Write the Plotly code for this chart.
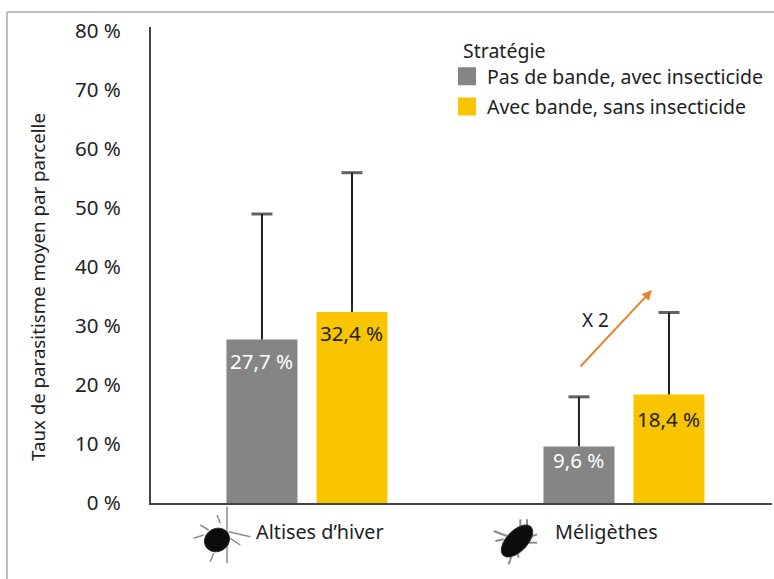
import math
import plotly.graph_objects as go

W, H = 774, 579
categories = ["Altises d’hiver", "Méligèthes"]
series_names = ["Pas de bande, avec insecticide", "Avec bande, sans insecticide"]
gray_values = [27.7, 9.6]
yellow_values = [32.4, 18.4]
gray_upper = [49.0, 18.0]
yellow_upper = [56.0, 32.3]
gray_labels = ["27,7 %", "9,6 %"]
yellow_labels = ["32,4 %", "18,4 %"]
y_ticks = [0, 10, 20, 30, 40, 50, 60, 70, 80]
y_ticklabels = ["0 %", "10 %", "20 %", "30 %", "40 %", "50 %", "60 %", "70 %", "80 %"]
y_title = "Taux de parasitisme moyen par parcelle"
legend_title = "Stratégie"
GRAY, YELLOW, ORANGE, INK = "#858585", "#F9C400", "#E8842C", "#222222"
FONT = "Noto Sans"

L, R, T, B = 151, 772, 27, 503
px = lambda x: (x - L) / (R - L)
py = lambda y: (B - y) / (B - T)

group_pos = list(range(len(categories)))
OFFSET, BAR_W = 0.142, 0.224

fig = go.Figure()
for name, vals, upper, color, sign in [
    (series_names[0], gray_values, gray_upper, GRAY, -1),
    (series_names[1], yellow_values, yellow_upper, YELLOW, 1),
]:
    xs = [p + sign * OFFSET for p in group_pos]
    fig.add_bar(x=xs, y=vals, width=BAR_W, name=name, marker_color=color,
                marker_line_width=0, showlegend=False)
    # upper whiskers only: stem from the bar top to the capped upper value
    wx, wy, ws = [], [], []
    for x, v, u in zip(xs, vals, upper):
        wx += [x, x, None]
        wy += [v, u, None]
        ws += [0, 15, 0]
    fig.add_scatter(x=wx, y=wy, mode="lines+markers", showlegend=False, hoverinfo="skip",
                    line=dict(color=INK, width=2),
                    marker=dict(symbol="line-ew", size=ws, line=dict(color=INK, width=3)))
    fig.add_scatter(x=[None], y=[None], mode="markers", name=name, legendgroup=name,
                    marker=dict(symbol="square", size=20, color=color,
                                line=dict(color=color, width=2)))

annos = []
def bar_label(x, val, txt, ys, col):
    annos.append(dict(x=x, y=val, text=txt, showarrow=False, yshift=ys, xanchor="center",
                      yanchor="middle", font=dict(color=col, size=20.5, family=FONT)))
bar_label(group_pos[0] - OFFSET, gray_values[0], gray_labels[0], -21, "white")
bar_label(group_pos[0] + OFFSET, yellow_values[0], yellow_labels[0], -21, INK)
bar_label(group_pos[1] - OFFSET, gray_values[1], gray_labels[1], -14, "white")
bar_label(group_pos[1] + OFFSET, yellow_values[1], yellow_labels[1], -25, INK)

for pos, cat, xs in zip(group_pos, categories, (13, -17)):
    annos.append(dict(x=pos, y=0, text=cat, showarrow=False, xshift=xs, xanchor="center",
                      yshift=-28, font=dict(color=INK, size=19.8, family=FONT)))
annos.append(dict(xref="paper", yref="paper", x=px(595), y=py(320), text="X 2", showarrow=False,
                  xanchor="center", font=dict(color=INK, size=19, family=FONT)))
annos.append(dict(xref="paper", yref="paper", x=px(652), y=py(290), ax=579 - 652, ay=368 - 290,
                  axref="pixel", ayref="pixel", text="", showarrow=True, arrowhead=2,
                  arrowsize=1, arrowwidth=2, arrowcolor=ORANGE))
annos.append(dict(xref="paper", yref="paper", x=px(461), y=py(50), text=legend_title, showarrow=False,
                  xanchor="left", yanchor="middle", font=dict(color=INK, size=19.5, family=FONT)))
annos.append(dict(xref="paper", yref="paper", x=px(37), y=py(287), text=y_title, showarrow=False,
                  textangle=-90, xanchor="center", yanchor="middle",
                  font=dict(color=INK, size=18.7, family=FONT)))

shapes = [
    dict(type="line", xref="paper", yref="paper", x0=px(7), x1=px(774), y0=py(12), y1=py(12),
         line=dict(color="#A8A8A8", width=1.5)),
    dict(type="line", xref="paper", yref="paper", x0=px(7), x1=px(7), y0=py(12), y1=py(579),
         line=dict(color="#A8A8A8", width=1.5)),
]

def beetle(cx, cy, rx, ry, angle, legs, leg_color, leg_width):
    """Small decorative insect icon built from paper-space paths."""
    a = math.radians(angle)
    for (x0, y0), (x1, y1) in legs:
        shapes.append(dict(type="line", xref="paper", yref="paper",
                           x0=px(cx + x0 / 3), y0=py(cy + y0 / 3),
                           x1=px(cx + x1 / 3), y1=py(cy + y1 / 3),
                           line=dict(color=leg_color, width=leg_width)))
    pts = []
    for t in range(20):
        u, v = rx * math.cos(t / 20 * math.tau), ry * math.sin(t / 20 * math.tau)
        pts.append((px(cx + u * math.cos(a) - v * math.sin(a)), py(cy + u * math.sin(a) + v * math.cos(a))))
    d = "M" + " L".join(f"{x:.5f},{y:.5f}" for x, y in pts) + " Z"
    shapes.append(dict(type="path", xref="paper", yref="paper", path=d,
                       fillcolor="#0C0C0C", line=dict(color="#333333", width=1)))

beetle(217, 540, 13, 11.5, -30,
       [((-50, -45), (-25, -30)), ((0, -75), (10, -50)), ((-70, -5), (-40, -15)),
        ((-20, 65), (-10, 40)), ((70, 15), (40, -5)), ((30, -100), (30, 70)), ((35, -25), (100, -10))],
       "#8C8C8C", 1.5)
beetle(517, 541, 20, 10.5, -46,
       [((-70, -30), (-30, -15)), ((-65, 0), (-40, -5)), ((10, -65), (10, -40)), ((30, -65), (30, -40)),
        ((60, -20), (35, -10)), ((60, 5), (35, 5)), ((-25, 70), (-15, 40)), ((5, 50), (0, 35))],
       "#8C8C8C", 2)

fig.update_layout(
    width=W, height=H, autosize=False,
    margin=dict(l=L, r=W - R, t=T, b=H - B),
    paper_bgcolor="white", plot_bgcolor="white",
    font=dict(family=FONT, size=19, color=INK),
    xaxis=dict(range=[-0.492, 1.467], showticklabels=False, ticks="", showgrid=False,
               showline=True, linecolor="#444444", linewidth=2, zeroline=False),
    yaxis=dict(range=[0, 80.7], tickvals=y_ticks, ticktext=y_ticklabels, showgrid=False,
               showline=True, linecolor="#444444", linewidth=2, zeroline=False, ticks="",
               ticklabelstandoff=24, tickfont=dict(size=20.5, color=INK, family=FONT)),
    legend=dict(x=px(447), y=py(57), xanchor="left", yanchor="top", bgcolor="rgba(0,0,0,0)",
                font=dict(size=19.5, color=INK, family=FONT), itemwidth=30, tracegroupgap=2),
    annotations=annos, shapes=shapes,
)
fig.write_html("out.html", config={"displayModeBar": False},
               post_script="document.body.style.margin='0';")
